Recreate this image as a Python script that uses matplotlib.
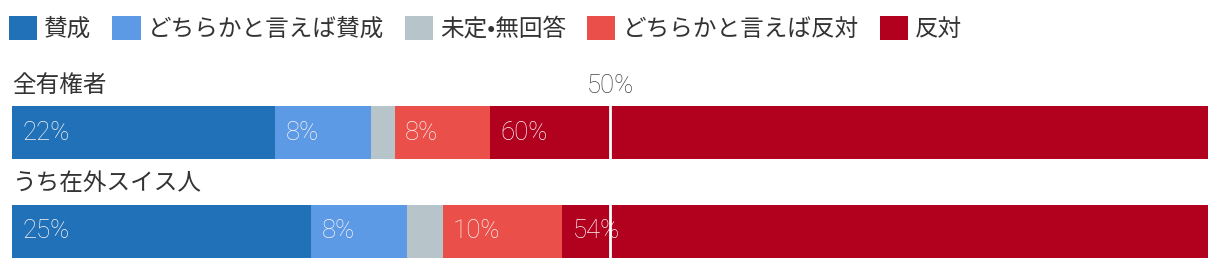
import matplotlib
matplotlib.use("Agg")
from matplotlib import pyplot as plt
from matplotlib.patches import Patch

plt.rcParams["font.family"] = ["Noto Sans CJK JP", "DejaVu Sans"]

# categories and answers
groups = ["全有権者", "うち在外スイス人"]
answers = ["賛成", "どちらかと言えば賛成", "未定•無回答", "どちらかと言えば反対", "反対"]
colors = ["#2171b9", "#5c9ae6", "#b7c4c9", "#eb4f4a", "#b2001f"]

# shares in percent, one list per answer
yes = [22, 25]
rather_yes = [8, 8]
undecided = [2, 3]
rather_no = [8, 10]
no = [60, 54]
series = [yes, rather_yes, undecided, rather_no, no]
show_label = [True, True, False, True, True]

num_font = ["Roboto", "DejaVu Sans"]

fig = plt.figure(figsize=(12.2, 2.7), dpi=100)
ax = fig.add_axes([12 / 1220, 12 / 270, 1196 / 1220, 152 / 270])

bar_h = 0.538
rows = list(range(len(groups)))
left = [0, 0]
for vals, col, lab in zip(series, colors, show_label):
    ax.barh(rows, vals, left=left, height=bar_h, color=col, linewidth=0)
    if lab:
        for r, l, v in zip(rows, left, vals):
            ax.annotate(f"{v}%", xy=(l, r), xytext=(7.5, 0), textcoords="offset points",
                        va="center", ha="left", color="#fbf3f3",
                        fontsize=18.5, family=num_font, fontweight="light", zorder=4)
    left = [a + b for a, b in zip(left, vals)]

# 50% marker
ax.axvline(50, color="white", linewidth=2, zorder=5)
ax.text(50, -0.47, "50%", ha="center", va="center", color="#444444",
        fontsize=18.5, family=num_font, fontweight="light")

for r, g in zip(rows, groups):
    ax.text(0, r - 0.48, g, ha="left", va="center", color="#333333", fontsize=17)

ax.set_xlim(0, 100)
ax.set_ylim(1.269, -0.269)
ax.axis("off")

handles = [Patch(facecolor=c, edgecolor="none") for c in colors]
fig.legend(handles, answers, loc="center left", bbox_to_anchor=(9 / 1220, 1 - 28 / 270),
           ncol=5, frameon=False, fontsize=17, handlelength=1.19, handleheight=1.19,
           handletextpad=0.3, columnspacing=0.89, borderpad=0, borderaxespad=0,
           labelcolor="#333333")

fig.savefig("out.png", dpi=100)
